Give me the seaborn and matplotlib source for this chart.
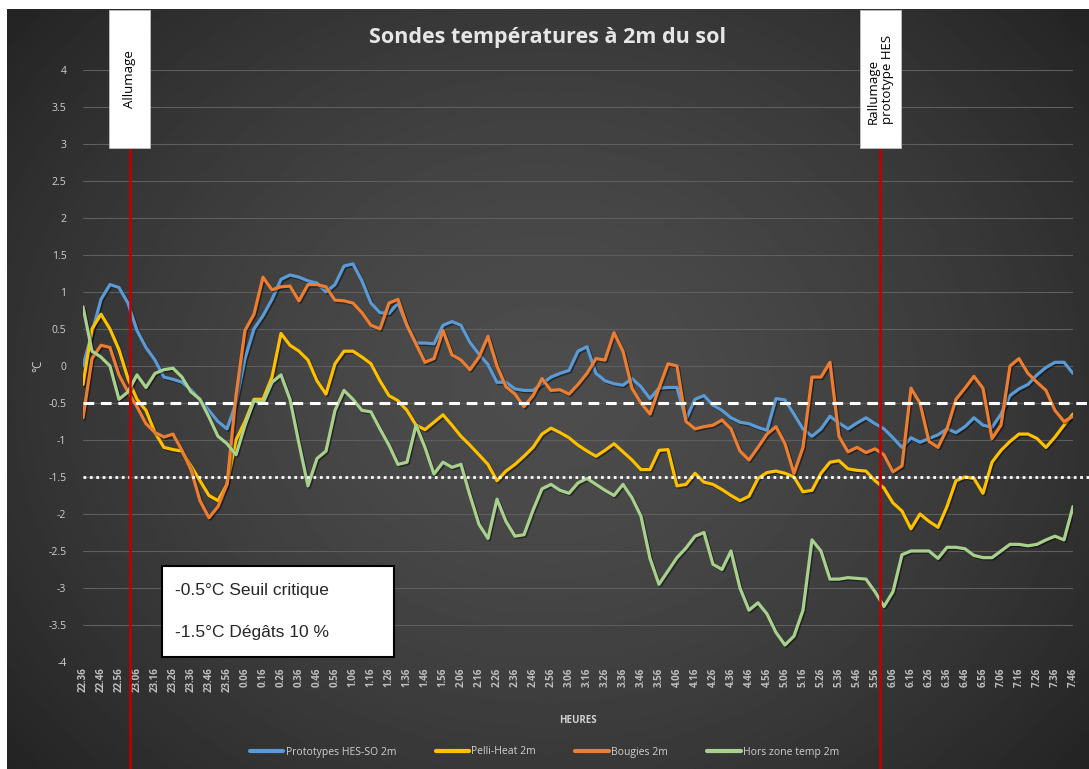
import numpy as np
import pandas as pd
import seaborn as sns
import matplotlib.pyplot as plt
import matplotlib.transforms as mtransforms
import matplotlib.patheffects as pe
from matplotlib.patches import Rectangle

# --- data: one reading every 5 minutes, starting 22:36 ---------------------
minutes = list(range(0, 551, 5))

prototypes = [
    0.0, 0.45, 0.9, 1.1, 1.06, 0.85, 0.48, 0.25, 0.08, -0.15,
    -0.18, -0.22, -0.32, -0.46, -0.6, -0.75, -0.85, -0.5, 0.1, 0.5,
    0.68, 0.9, 1.17, 1.23, 1.2, 1.15, 1.12, 1.0, 1.1, 1.35,
    1.38, 1.15, 0.85, 0.72, 0.71, 0.85, 0.55, 0.31, 0.31, 0.3,
    0.55, 0.6, 0.55, 0.32, 0.16, 0.02, -0.22, -0.22, -0.31, -0.33,
    -0.33, -0.24, -0.15, -0.1, -0.06, 0.2, 0.26, -0.1, -0.2, -0.24,
    -0.26, -0.17, -0.28, -0.44, -0.3, -0.29, -0.29, -0.72, -0.45, -0.4,
    -0.53, -0.6, -0.7, -0.76, -0.78, -0.83, -0.87, -0.44, -0.46, -0.65,
    -0.85, -0.95, -0.85, -0.68, -0.77, -0.85, -0.77, -0.7, -0.78, -0.85,
    -0.97, -1.1, -0.97, -1.03, -0.98, -0.93, -0.85, -0.9, -0.82, -0.7,
    -0.8, -0.83, -0.65, -0.4, -0.31, -0.25, -0.12, -0.02, 0.05, 0.05,
    -0.1,
]
pelli_heat = [
    -0.25, 0.5, 0.7, 0.5, 0.22, -0.17, -0.45, -0.6, -0.9, -1.1,
    -1.13, -1.15, -1.35, -1.55, -1.75, -1.82, -1.6, -1.0, -0.75, -0.45,
    -0.45, -0.15, 0.44, 0.28, 0.2, 0.08, -0.2, -0.38, 0.03, 0.2,
    0.2, 0.12, 0.03, -0.2, -0.4, -0.47, -0.6, -0.8, -0.86, -0.76,
    -0.66, -0.8, -0.95, -1.07, -1.2, -1.33, -1.55, -1.42, -1.33, -1.22,
    -1.1, -0.92, -0.84, -0.9, -0.97, -1.07, -1.15, -1.22, -1.14, -1.05,
    -1.16, -1.27, -1.4, -1.4, -1.14, -1.13, -1.62, -1.6, -1.45, -1.57,
    -1.6, -1.67, -1.75, -1.82, -1.76, -1.52, -1.44, -1.42, -1.45, -1.5,
    -1.7, -1.68, -1.45, -1.3, -1.28, -1.39, -1.41, -1.42, -1.55, -1.65,
    -1.85, -1.96, -2.2, -2.0, -2.1, -2.18, -1.9, -1.55, -1.5, -1.52,
    -1.72, -1.3, -1.14, -1.02, -0.92, -0.92, -0.98, -1.1, -0.96, -0.8,
    -0.65,
]
bougies = [
    -0.7, 0.1, 0.28, 0.25, -0.12, -0.35, -0.55, -0.78, -0.9, -0.96,
    -0.92, -1.14, -1.4, -1.82, -2.05, -1.9, -1.6, -0.4, 0.48, 0.7,
    1.2, 1.03, 1.07, 1.08, 0.88, 1.1, 1.1, 1.07, 0.89, 0.88,
    0.85, 0.72, 0.55, 0.5, 0.85, 0.9, 0.55, 0.3, 0.05, 0.1,
    0.48, 0.15, 0.08, -0.05, 0.12, 0.4, 0.0, -0.28, -0.38, -0.55,
    -0.4, -0.17, -0.33, -0.32, -0.38, -0.25, -0.1, 0.1, 0.08, 0.45,
    0.2, -0.3, -0.5, -0.65, -0.3, 0.03, 0.0, -0.75, -0.85, -0.82,
    -0.8, -0.73, -0.85, -1.15, -1.27, -1.1, -0.92, -0.82, -1.05, -1.45,
    -1.1, -0.15, -0.15, 0.05, -0.95, -1.16, -1.1, -1.17, -1.12, -1.2,
    -1.43, -1.35, -0.3, -0.5, -1.02, -1.1, -0.85, -0.45, -0.3, -0.14,
    -0.3, -0.98, -0.8, 0.0, 0.1, -0.1, -0.22, -0.33, -0.6, -0.75,
    -0.68,
]
hors_zone = [
    0.8, 0.2, 0.12, 0.0, -0.45, -0.35, -0.12, -0.29, -0.1, -0.05,
    -0.03, -0.15, -0.35, -0.45, -0.69, -0.95, -1.05, -1.2, -0.8, -0.47,
    -0.5, -0.22, -0.12, -0.45, -1.05, -1.62, -1.25, -1.15, -0.6, -0.33,
    -0.45, -0.6, -0.62, -0.85, -1.07, -1.33, -1.3, -0.8, -1.1, -1.46,
    -1.3, -1.37, -1.33, -1.75, -2.14, -2.33, -1.8, -2.1, -2.3, -2.28,
    -1.95, -1.66, -1.6, -1.68, -1.72, -1.58, -1.52, -1.6, -1.68, -1.75,
    -1.6, -1.78, -2.03, -2.6, -2.95, -2.77, -2.59, -2.46, -2.3, -2.25,
    -2.68, -2.75, -2.5, -3.0, -3.3, -3.2, -3.35, -3.6, -3.77, -3.65,
    -3.3, -2.35, -2.5, -2.88, -2.88, -2.86, -2.87, -2.88, -3.05, -3.25,
    -3.05, -2.55, -2.5, -2.5, -2.5, -2.6, -2.45, -2.45, -2.47, -2.56,
    -2.59, -2.59, -2.5, -2.41, -2.41, -2.43, -2.41, -2.35, -2.3, -2.35,
    -1.9,
]

series_names = ["Prototypes HES-SO 2m", "Pelli-Heat 2m", "Bougies 2m", "Hors zone temp 2m"]
series_colors = ["#5B9BD5", "#FFC000", "#ED7D31", "#A9D18E"]

tick_minutes = list(range(0, 551, 10))
tick_labels = [
    "22.36", "22.46", "22.56", "23.06", "23.16", "23.26", "23.36", "23.46", "23.56",
    "0.06", "0.16", "0.26", "0.36", "0.46", "0.56",
    "1.06", "1.16", "1.26", "1.36", "1.46", "1.56",
    "2.06", "2.16", "2.26", "2.36", "2.46", "2.56",
    "3.06", "3.16", "3.26", "3.36", "3.46", "3.56",
    "4.06", "4.16", "4.26", "4.36", "4.46", "4.56",
    "5.06", "5.16", "5.26", "5.36", "5.46", "5.56",
    "6.06", "6.16", "6.26", "6.36", "6.46", "6.56",
    "7.06", "7.16", "7.26", "7.36", "7.46",
]

# events (minutes after 22:36)
event_minutes = [26, 443]
event_labels = ["Allumage", "Rallumage\nprototype HES"]

thresholds = [-0.5, -1.5]

# --- build long table --------------------------------------------------------
frames = []
for name, vals in zip(series_names, [prototypes, pelli_heat, bougies, hors_zone]):
    frames.append(pd.DataFrame({"minute": minutes, "temp": vals, "serie": name}))
df = pd.concat(frames, ignore_index=True)

sns.set_style("dark")
plt.rcParams["font.family"] = ["Open Sans", "DejaVu Sans"]

W, H = 1089, 769
fig = plt.figure(figsize=(W / 100, H / 100), dpi=100, facecolor="white")

# dark gradient background of the chart area
bg = fig.add_axes([7 / W, 0, 1 - 7 / W, 1 - 9 / H])
yy, xx = np.mgrid[0:1:300j, 0:1:400j]
r = np.sqrt(((xx - 0.5) / 0.62) ** 2 + ((yy - 0.5) / 0.75) ** 2)
shade = np.clip(0.30 - 0.15 * r ** 1.6, 0.14, 0.30)
bg.imshow(shade, cmap="gray", vmin=0, vmax=1, aspect="auto", extent=[0, 1, 0, 1])
bg.set_axis_off()

ax = fig.add_axes([83 / W, 1 - 662 / H, 990 / W, 592 / H])
ax.set_facecolor("none")

sns.lineplot(data=df, x="minute", y="temp", hue="serie", palette=series_colors,
             hue_order=series_names, linewidth=2.3, ax=ax, estimator=None)
for ln in ax.lines:
    ln.set_path_effects([pe.SimpleLineShadow(offset=(1, -1), alpha=0.45, shadow_color="black"),
                         pe.Normal()])

ax.set_xlim(0, 550)
ax.set_ylim(-4, 4)
ax.set_yticks(np.arange(-4, 4.01, 0.5))
ax.set_yticklabels([f"{v:g}" for v in np.arange(-4, 4.01, 0.5)])
ax.set_xticks(tick_minutes)
ax.set_xticklabels(tick_labels, rotation=90)
ax.tick_params(axis="x", colors="#bfbfbf", labelsize=7, length=0, pad=4)
ax.tick_params(axis="y", colors="#d0d0d0", labelsize=7.5, length=0, pad=12)
for t in ax.get_xticklabels():
    t.set_fontweight("bold")
ax.grid(axis="y", color="#5e5e5e", linewidth=0.8)
ax.grid(axis="x", visible=False)
for s in ax.spines.values():
    s.set_visible(False)

ax.set_xlabel("HEURES", color="#d0d0d0", fontsize=7, fontweight="bold", labelpad=16)
ax.set_ylabel("°C", color="#d0d0d0", fontsize=8.5, labelpad=3)

# threshold lines
ax.axhline(thresholds[0], xmax=1.016, color="white", linewidth=2.2, dashes=(3.5, 2.2),
           clip_on=False, zorder=5)
ax.axhline(thresholds[1], xmax=1.016, color="white", linewidth=2.0, linestyle=(0, (1, 1.3)),
           clip_on=False, zorder=5)

# event markers: red line + white box
blend = mtransforms.blended_transform_factory(ax.transData, fig.transFigure)
box_bottom = 1 - 148 / H
box_top = 1 - 10 / H
for m, lab in zip(event_minutes, event_labels):
    ax.plot([m, m], [0, box_bottom], transform=blend, color="#C00000", linewidth=1.8,
            clip_on=False, zorder=6)
    ax.add_patch(Rectangle((m - 11.4, box_bottom), 22.8, box_top - box_bottom, transform=blend,
                           facecolor="white", edgecolor="#bfbfbf", linewidth=0.6,
                           clip_on=False, zorder=7))
    ax.text(m, (box_bottom + box_top) / 2, lab, transform=blend, rotation=90, ha="center",
            va="center", multialignment="left", fontsize=9.5, color="black", zorder=8,
            linespacing=1.1)

# threshold legend box
fig.patches.append(Rectangle((162 / W, 1 - 657 / H), 232 / W, 91 / H, transform=fig.transFigure,
                             facecolor="white", edgecolor="black", linewidth=1.5, zorder=9))
fig.text(175 / W, 1 - 590 / H, "-0.5°C Seuil critique", fontsize=12.5, family="Liberation Sans",
         va="center", zorder=10)
fig.text(175 / W, 1 - 633 / H, "-1.5°C Dégâts 10 %", fontsize=12.5, family="Liberation Sans",
         va="center", zorder=10)

fig.text(548 / W, 1 - 37 / H, "Sondes températures à 2m du sol", ha="center", va="center",
         fontsize=15.5, fontweight="bold", color="#e6e6e6")

sns.move_legend(ax, "center", bbox_to_anchor=(0.5, 17 / H), bbox_transform=fig.transFigure,
                ncol=4, frameon=False, title=None, fontsize=7.5, handlelength=3.2,
                columnspacing=3.8, handletextpad=0.2)
for t in ax.get_legend().get_texts():
    t.set_color("#d0d0d0")
for h in ax.get_legend().legend_handles:
    h.set_linewidth(3)

fig.savefig("out.png", dpi=100, facecolor="white")
